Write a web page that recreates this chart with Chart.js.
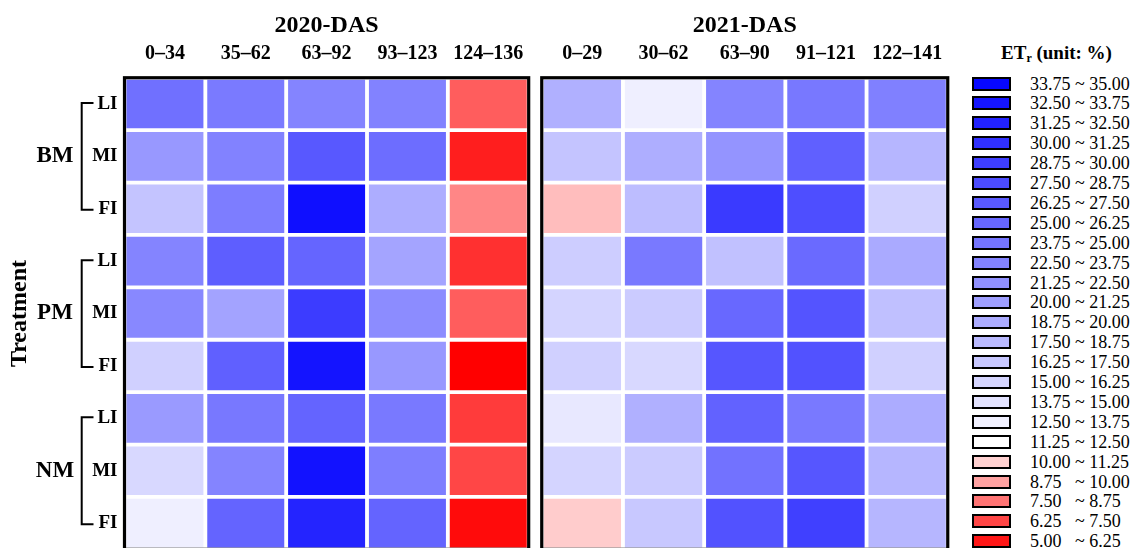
<!DOCTYPE html>
<html>
<head>
<meta charset="utf-8">
<script src="https://cdn.jsdelivr.net/npm/chart.js@4"></script>
<style>
  html, body { margin: 0; padding: 0; background: #fff; overflow: hidden; }
  #wrap { position: relative; width: 1134px; height: 548px; font-family: 'Liberation Serif', 'Times New Roman', serif; }
  #panel2020 { position: absolute; left: 0; top: 0; }
  #panel2021 { position: absolute; left: 536px; top: 0; }
  .leg-title { position: absolute; left: 990px; width: 133px; top: 40.5px; line-height: 24px; font-size: 19px; font-weight: bold; text-align: center; white-space: nowrap; }
  .leg-title sub { font-size: 12px; vertical-align: -3px; }
  .leg-box { position: absolute; left: 972px; width: 39px; height: 14px; box-sizing: border-box; border: 2px solid #000; }
  .leg-text { position: absolute; left: 1030px; line-height: 20px; font-size: 18px; white-space: nowrap; }
  .leg-text span { display: inline-block; width: 45px; }
</style>
</head>
<body>
<div id="wrap">
  <canvas id="panel2020" width="536" height="560"></canvas>
  <canvas id="panel2021" width="420" height="560"></canvas>
  <div class="leg-title">ET<sub>r</sub> (unit: %)</div>
  <div id="legend"></div>
</div>
<script>
const treatments = ['BM', 'PM', 'NM'];
const irrigation = ['LI', 'MI', 'FI'];
const das2020 = ['0–34', '35–62', '63–92', '93–123', '124–136'];
const das2021 = ['0–29', '30–62', '63–90', '91–121', '122–141'];

// ETr (%) per row: BM-LI, BM-MI, BM-FI, PM-LI, ... NM-FI
const et2020 = [
  [24.8, 23.9, 23.0, 23.2, 7.5],
  [21.2, 23.2, 27.0, 25.1, 5.8],
  [17.2, 23.7, 33.6, 19.3, 8.6],
  [23.0, 26.5, 25.8, 20.1, 6.3],
  [22.7, 20.2, 29.6, 22.3, 7.5],
  [16.1, 26.3, 33.2, 21.2, 5.0],
  [21.0, 24.1, 25.9, 24.0, 6.6],
  [15.4, 23.0, 33.4, 23.6, 6.9],
  [13.3, 25.9, 31.7, 25.9, 5.3]
];
const et2021 = [
  [19.0, 13.3, 23.0, 24.1, 23.4],
  [17.2, 19.2, 21.6, 26.3, 18.5],
  [10.1, 17.9, 29.7, 27.9, 16.1],
  [16.4, 24.0, 17.5, 25.4, 19.6],
  [15.8, 16.6, 25.6, 27.4, 17.6],
  [16.1, 15.4, 27.2, 27.6, 16.1],
  [14.0, 19.0, 26.1, 24.0, 19.4],
  [15.8, 16.6, 24.7, 27.2, 18.5],
  [10.5, 16.9, 27.6, 29.2, 18.5]
];

const legendBreaks = [35.00, 33.75, 32.50, 31.25, 30.00, 28.75, 27.50, 26.25, 25.00, 23.75, 22.50, 21.25,
  20.00, 18.75, 17.50, 16.25, 15.00, 13.75, 12.50, 11.25, 10.00, 8.75, 7.50, 6.25, 5.00];

const rowLabels = [];
treatments.forEach(() => irrigation.forEach(i => rowLabels.push(i)));

const SERIF = "'Liberation Serif', 'Times New Roman', serif";
Chart.defaults.font.family = SERIF;
Chart.defaults.color = '#000';

const WHITE_AT = 11.875;
function etColour(v) {
  if (v >= WHITE_AT) {
    const t = Math.min(1, (v - WHITE_AT) / (35 - WHITE_AT));
    const g = Math.round(255 * (1 - t));
    return `rgb(${g},${g},255)`;
  }
  const t = Math.min(1, (WHITE_AT - v) / (WHITE_AT - 5));
  const g = Math.round(255 * (1 - t));
  return `rgb(255,${g},${g})`;
}

// thick black box round each panel
const framePlugin = {
  id: 'frame',
  afterDatasetsDraw(chart) {
    const { ctx, chartArea: a } = chart;
    ctx.save();
    ctx.strokeStyle = '#000';
    ctx.lineWidth = 3.2;
    ctx.strokeRect(a.left, a.top, a.right - a.left, a.bottom - a.top);
    ctx.restore();
  }
};

// manure groups, brackets and axis title on the left panel
const groupPlugin = {
  id: 'groups',
  afterDraw(chart) {
    const { ctx } = chart;
    const y = chart.scales.y;
    ctx.save();
    ctx.fillStyle = '#000';
    ctx.strokeStyle = '#000';
    ctx.lineWidth = 2;
    treatments.forEach((t, g) => {
      const top = y.getPixelForValue(g * 3 + 0.5) - 1;
      const mid = y.getPixelForValue(g * 3 + 1.5);
      const bot = y.getPixelForValue(g * 3 + 2.5) + 1;
      ctx.beginPath();
      ctx.moveTo(93.5, top);
      ctx.lineTo(81.7, top);
      ctx.lineTo(81.7, bot);
      ctx.lineTo(93.5, bot);
      ctx.stroke();
      ctx.font = 'bold 23px ' + SERIF;
      ctx.textAlign = 'center';
      ctx.textBaseline = 'middle';
      ctx.fillText(t, 55, mid);
    });
    ctx.translate(20, (chart.chartArea.top + chart.chartArea.bottom) / 2);
    ctx.rotate(-Math.PI / 2);
    ctx.font = 'bold 24px ' + SERIF;
    ctx.textAlign = 'center';
    ctx.textBaseline = 'middle';
    ctx.fillText('Treatment', 0, 0);
    ctx.restore();
  }
};

function makePanel(id, title, labels, values, showRows, padding) {
  return new Chart(document.getElementById(id), {
    type: 'bar',
    data: {
      labels: labels,
      datasets: values.map((row, r) => ({
        label: rowLabels[r],
        data: row.map(() => [r, r + 1]),
        backgroundColor: row.map(etColour),
        borderColor: '#ffffff',
        borderWidth: 2.25,
        borderSkipped: false,
        barPercentage: 1,
        categoryPercentage: 1,
        grouped: false
      }))
    },
    options: {
      responsive: false,
      animation: false,
      layout: { padding: padding },
      plugins: {
        legend: { display: false },
        tooltip: { enabled: false },
        title: {
          display: true,
          text: title,
          fullSize: false,
          color: '#000',
          font: { size: 24, weight: 'bold', family: SERIF },
          padding: { top: 11, bottom: 4 }
        }
      },
      scales: {
        x: {
          position: 'top',
          grid: { display: false, drawTicks: false },
          border: { display: false },
          ticks: { color: '#000', maxRotation: 0, autoSkip: false, padding: 12, font: { size: 20, weight: 'bold', family: SERIF } },
          afterFit(scale) { scale.height = 33.95; }
        },
        y: {
          display: showRows,
          min: 0,
          max: 9,
          reverse: true,
          grid: { display: false, drawTicks: false },
          border: { display: false },
          afterBuildTicks(scale) { scale.ticks = rowLabels.map((_, i) => ({ value: i + 0.5 })); },
          ticks: {
            color: '#000',
            padding: 7,
            font: { size: 19, weight: 'bold', family: SERIF },
            callback: (value, index) => rowLabels[index]
          },
          afterFit(scale) {
            scale.width = showRows ? 124.5 : 0;
            scale.paddingTop = 0;
            scale.paddingBottom = 0;
          }
        }
      }
    },
    plugins: showRows ? [framePlugin, groupPlugin] : [framePlugin]
  });
}

makePanel('panel2020', '2020-DAS', das2020, et2020, true, { left: 0, right: 5.5, top: 0, bottom: 10.65 });
makePanel('panel2021', '2021-DAS', das2021, et2021, false, { left: 5.75, right: 8.25, top: 0, bottom: 10.65 });

// colour key
const legend = document.getElementById('legend');
for (let i = 0; i < legendBreaks.length - 1; i++) {
  const hi = legendBreaks[i], lo = legendBreaks[i + 1];
  const box = document.createElement('div');
  box.className = 'leg-box';
  box.style.top = (76.5 + i * 19.9) + 'px';
  box.style.background = etColour((hi + lo) / 2);
  legend.appendChild(box);
  const txt = document.createElement('div');
  txt.className = 'leg-text';
  txt.style.top = (73.5 + i * 19.9) + 'px';
  txt.innerHTML = '<span>' + lo.toFixed(2) + '</span>~ ' + hi.toFixed(2);
  legend.appendChild(txt);
}
</script>
</body>
</html>
